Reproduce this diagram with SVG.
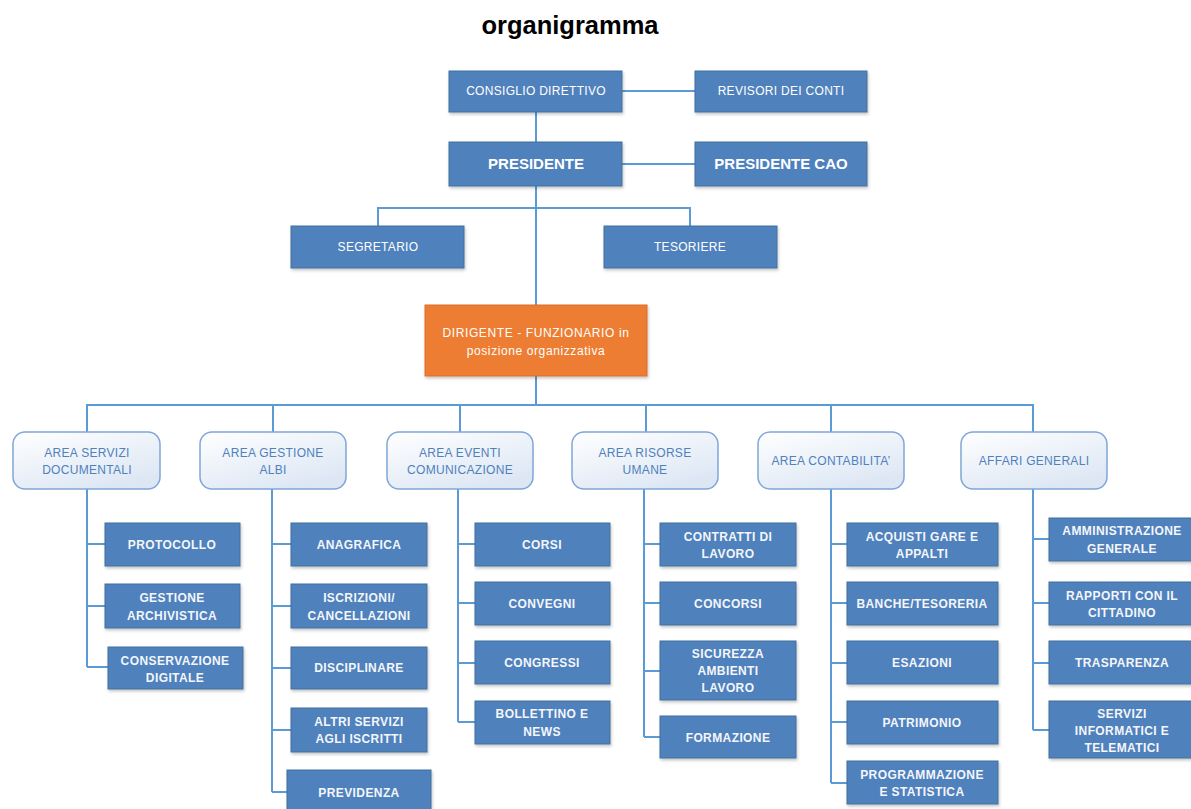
<svg xmlns="http://www.w3.org/2000/svg" width="1191" height="809" viewBox="0 0 1191 809">
<defs>
<filter id="sh" x="-10%" y="-10%" width="130%" height="140%">
<feDropShadow dx="1" dy="2" stdDeviation="1.5" flood-color="#000" flood-opacity="0.22"/>
</filter>
<linearGradient id="hg" x1="0" y1="0" x2="0.6" y2="1">
<stop offset="0" stop-color="#ffffff"/>
<stop offset="1" stop-color="#dde7f4"/>
</linearGradient>
<style>
.b{fill:#4f81bd;stroke:#41719c;stroke-width:1;filter:url(#sh)}
.o{fill:#ed7d31;stroke:#d9712c;stroke-width:1;filter:url(#sh)}
.h{fill:url(#hg);stroke:#7fa6d6;stroke-width:1.5}
.c{fill:none;stroke:#5b9bd5;stroke-width:2}
text{font-family:"Liberation Sans",Arial,sans-serif;text-anchor:middle}
.t{fill:#ffffff;font-size:12px;letter-spacing:0.3px}
.d{fill:#ffffff;font-size:12px;letter-spacing:0.6px}
.tb{fill:#ffffff;font-size:15px;font-weight:bold}
.s{fill:#f4f6fa;font-size:12px;font-weight:bold;letter-spacing:0.4px}
.ht{fill:#4f81bd;font-size:12px;letter-spacing:0.3px}
.ti{fill:#000;font-size:25.5px;font-weight:bold}
</style>
</defs>
<rect width="1191" height="809" fill="#ffffff"/>
<text class="ti" x="570" y="34">organigramma</text>

<g id="connectors">
<path class="c" d="M622 91H695"/>
<path class="c" d="M536 112V142"/>
<path class="c" d="M622 164H695"/>
<path class="c" d="M536 186V305"/>
<path class="c" d="M378 226V208H690V226"/>
<path class="c" d="M536 376V405"/>
<path class="c" d="M87 432V405H1033V432M273 405V432M460 405V432M646 405V432M831 405V432"/>
<path class="c" d="M87 489V667M87 544H105M87 606H105M87 667H108"/>
<path class="c" d="M272 489V792M272 544H291M272 606H291M272 668H291M272 730H291M272 792H287"/>
<path class="c" d="M458 489V722M458 544H475M458 603H475M458 663H475M458 722H475"/>
<path class="c" d="M644 489V737M644 544H660M644 603H660M644 671H660M644 737H660"/>
<path class="c" d="M831 489V783M831 544H847M831 603H847M831 663H847M831 722H847M831 783H847"/>
<path class="c" d="M1033 489V730M1033 539H1049M1033 603H1049M1033 663H1049M1033 730H1049"/>
</g>

<g id="consiglio"><rect class="b" x="449" y="71" width="173" height="41"/><text class="t" x="536" y="95">CONSIGLIO DIRETTIVO</text></g>
<g id="revisori"><rect class="b" x="695" y="71" width="172" height="41"/><text class="t" x="781" y="95">REVISORI DEI CONTI</text></g>
<g id="presidente"><rect class="b" x="449" y="142" width="173" height="44"/><text class="tb" x="536" y="169">PRESIDENTE</text></g>
<g id="presidente-cao"><rect class="b" x="695" y="142" width="172" height="44"/><text class="tb" x="781" y="169">PRESIDENTE CAO</text></g>
<g id="segretario"><rect class="b" x="291" y="226" width="173" height="42"/><text class="t" x="378" y="251">SEGRETARIO</text></g>
<g id="tesoriere"><rect class="b" x="604" y="226" width="173" height="42"/><text class="t" x="690" y="251">TESORIERE</text></g>
<g id="dirigente"><rect class="o" x="425" y="305" width="222" height="71"/><text class="d" x="536" y="337">DIRIGENTE - FUNZIONARIO in</text><text class="d" x="536" y="355">posizione organizzativa</text></g>

<g id="area-servizi-documentali"><rect class="h" x="13" y="432" width="147" height="57" rx="12"/><text class="ht" x="87" y="457">AREA SERVIZI</text><text class="ht" x="87" y="474">DOCUMENTALI</text></g>
<g id="area-gestione-albi"><rect class="h" x="200" y="432" width="146" height="57" rx="12"/><text class="ht" x="273" y="457">AREA GESTIONE</text><text class="ht" x="273" y="474">ALBI</text></g>
<g id="area-eventi"><rect class="h" x="387" y="432" width="146" height="57" rx="12"/><text class="ht" x="460" y="457">AREA EVENTI</text><text class="ht" x="460" y="474">COMUNICAZIONE</text></g>
<g id="area-risorse-umane"><rect class="h" x="572" y="432" width="146" height="57" rx="12"/><text class="ht" x="645" y="457">AREA RISORSE</text><text class="ht" x="645" y="474">UMANE</text></g>
<g id="area-contabilita"><rect class="h" x="758" y="432" width="146" height="57" rx="12"/><text class="ht" x="831" y="465">AREA CONTABILITA’</text></g>
<g id="affari-generali"><rect class="h" x="961" y="432" width="146" height="57" rx="12"/><text class="ht" x="1034" y="465">AFFARI GENERALI</text></g>

<g id="protocollo"><rect class="b" x="105" y="523" width="135" height="43"/><text class="s" x="172" y="549">PROTOCOLLO</text></g>
<g id="gestione-archivistica"><rect class="b" x="105" y="584" width="135" height="44"/><text class="s" x="172" y="602">GESTIONE</text><text class="s" x="172" y="620">ARCHIVISTICA</text></g>
<g id="conservazione-digitale"><rect class="b" x="108" y="647" width="135" height="42"/><text class="s" x="175" y="665">CONSERVAZIONE</text><text class="s" x="175" y="682">DIGITALE</text></g>

<g id="anagrafica"><rect class="b" x="291" y="523" width="136" height="43"/><text class="s" x="359" y="549">ANAGRAFICA</text></g>
<g id="iscrizioni"><rect class="b" x="291" y="584" width="136" height="44"/><text class="s" x="359" y="602">ISCRIZIONI/</text><text class="s" x="359" y="620">CANCELLAZIONI</text></g>
<g id="disciplinare"><rect class="b" x="291" y="647" width="136" height="42"/><text class="s" x="359" y="672">DISCIPLINARE</text></g>
<g id="altri-servizi"><rect class="b" x="291" y="708" width="136" height="44"/><text class="s" x="359" y="726">ALTRI SERVIZI</text><text class="s" x="359" y="743">AGLI ISCRITTI</text></g>
<g id="previdenza"><rect class="b" x="287" y="770" width="144" height="45"/><text class="s" x="359" y="797">PREVIDENZA</text></g>

<g id="corsi"><rect class="b" x="475" y="523" width="135" height="43"/><text class="s" x="542" y="549">CORSI</text></g>
<g id="convegni"><rect class="b" x="475" y="582" width="135" height="43"/><text class="s" x="542" y="608">CONVEGNI</text></g>
<g id="congressi"><rect class="b" x="475" y="641" width="135" height="43"/><text class="s" x="542" y="667">CONGRESSI</text></g>
<g id="bollettino"><rect class="b" x="475" y="701" width="135" height="43"/><text class="s" x="542" y="718">BOLLETTINO E</text><text class="s" x="542" y="736">NEWS</text></g>

<g id="contratti"><rect class="b" x="660" y="523" width="136" height="43"/><text class="s" x="728" y="541">CONTRATTI DI</text><text class="s" x="728" y="558">LAVORO</text></g>
<g id="concorsi"><rect class="b" x="660" y="582" width="136" height="43"/><text class="s" x="728" y="608">CONCORSI</text></g>
<g id="sicurezza"><rect class="b" x="660" y="641" width="136" height="59"/><text class="s" x="728" y="658">SICUREZZA</text><text class="s" x="728" y="675">AMBIENTI</text><text class="s" x="728" y="692">LAVORO</text></g>
<g id="formazione"><rect class="b" x="660" y="716" width="136" height="42"/><text class="s" x="728" y="742">FORMAZIONE</text></g>

<g id="acquisti"><rect class="b" x="847" y="523" width="151" height="43"/><text class="s" x="922" y="541">ACQUISTI GARE E</text><text class="s" x="922" y="558">APPALTI</text></g>
<g id="banche"><rect class="b" x="847" y="582" width="151" height="43"/><text class="s" x="922" y="608">BANCHE/TESORERIA</text></g>
<g id="esazioni"><rect class="b" x="847" y="641" width="151" height="43"/><text class="s" x="922" y="667">ESAZIONI</text></g>
<g id="patrimonio"><rect class="b" x="847" y="701" width="151" height="43"/><text class="s" x="922" y="727">PATRIMONIO</text></g>
<g id="programmazione"><rect class="b" x="847" y="761" width="151" height="43"/><text class="s" x="922" y="779">PROGRAMMAZIONE</text><text class="s" x="922" y="796">E STATISTICA</text></g>

<g id="amministrazione"><rect class="b" x="1049" y="518" width="145" height="43"/><text class="s" x="1122" y="535">AMMINISTRAZIONE</text><text class="s" x="1122" y="553">GENERALE</text></g>
<g id="rapporti"><rect class="b" x="1049" y="582" width="145" height="43"/><text class="s" x="1122" y="600">RAPPORTI CON IL</text><text class="s" x="1122" y="617">CITTADINO</text></g>
<g id="trasparenza"><rect class="b" x="1049" y="641" width="145" height="43"/><text class="s" x="1122" y="667">TRASPARENZA</text></g>
<g id="servizi-informatici"><rect class="b" x="1049" y="701" width="145" height="57"/><text class="s" x="1122" y="718">SERVIZI</text><text class="s" x="1122" y="735">INFORMATICI E</text><text class="s" x="1122" y="752">TELEMATICI</text></g>
</svg>
